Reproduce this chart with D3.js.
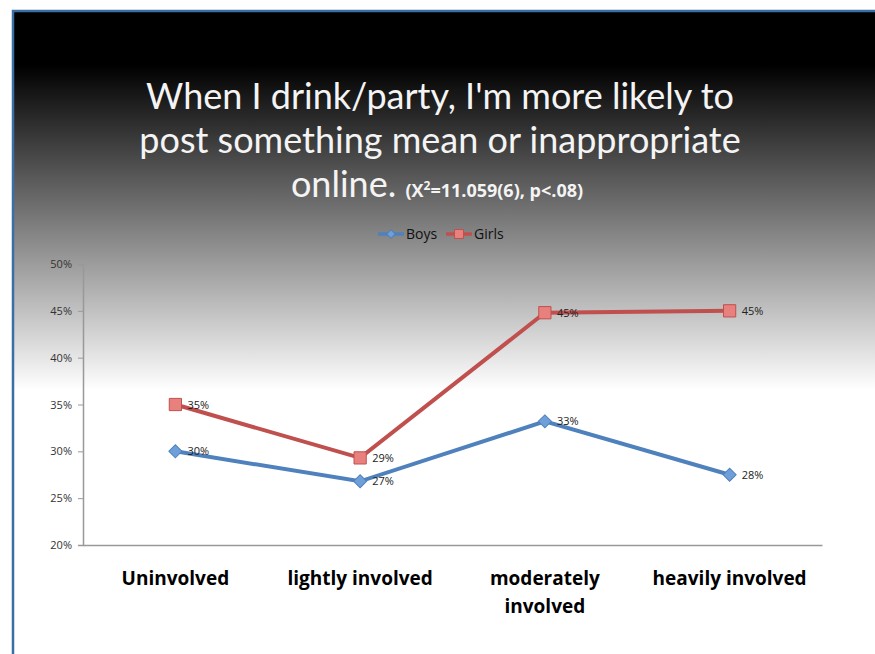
<!DOCTYPE html>
<html>
<head>
<meta charset="utf-8">
<script src="https://cdn.jsdelivr.net/npm/d3@7"></script>
<style>
body { margin: 0; background: #fff; }
text { font-family: Lato, "Open Sans", sans-serif; }
</style>
</head>
<body>
<script>
// chart data
var categories = ["Uninvolved", "lightly involved", "moderately involved", "heavily involved"];
var catLines = [["Uninvolved"], ["lightly involved"], ["moderately", "involved"], ["heavily involved"]];
var seriesNames = ["Boys", "Girls"];
var boys = [0.300, 0.268, 0.332, 0.275];
var girls = [0.350, 0.293, 0.448, 0.450];
var boysLabels = ["30%", "27%", "33%", "28%"];
var girlsLabels = ["35%", "29%", "45%", "45%"];
var yTicks = [0.20, 0.25, 0.30, 0.35, 0.40, 0.45, 0.50];

var w = 875, h = 654;
var blue = "#4f81bd", red = "#c0504d";

var svg = d3.select("body").append("svg")
	.attr("width", w)
	.attr("height", h);

var defs = svg.append("defs");
var grad = defs.append("linearGradient")
	.attr("id", "bg")
	.attr("gradientUnits", "userSpaceOnUse")
	.attr("x1", 0).attr("x2", 0)
	.attr("y1", 10).attr("y2", 654);
grad.append("stop").attr("offset", "0").attr("stop-color", "#000");
grad.append("stop").attr("offset", "0.085").attr("stop-color", "#000");
grad.append("stop").attr("offset", "0.59").attr("stop-color", "#fff");
grad.append("stop").attr("offset", "1").attr("stop-color", "#fff");

// slide panel
svg.append("rect")
	.attr("x", 13).attr("y", 11)
	.attr("width", w).attr("height", h)
	.attr("fill", "url(#bg)")
	.attr("stroke", "#3a6ea5")
	.attr("stroke-width", 2.5);

// title
var title = svg.append("text")
	.attr("text-anchor", "middle")
	.attr("fill", "#f4f4f4")
	.style("font-size", "36px");
title.append("tspan").attr("x", 440).attr("y", 109).text("When I drink/party, I'm more likely to");
title.append("tspan").attr("x", 440).attr("y", 153).text("post something mean or inappropriate");
var l3 = title.append("tspan").attr("x", 437).attr("y", 197).text("online. ");
l3.append("tspan").style("font-size", "18px").style("font-weight", "bold").style("font-family", "'Open Sans', sans-serif").text("(X");
l3.append("tspan").style("font-size", "12px").style("font-weight", "bold").style("font-family", "'Open Sans', sans-serif").attr("dy", -7).text("2");
l3.append("tspan").style("font-size", "18px").style("font-weight", "bold").style("font-family", "'Open Sans', sans-serif").attr("dy", 7).text("=11.059(6), p<.08)");

// scales
var x = d3.scaleBand().domain(categories).range([83, 822]);
var y = d3.scaleLinear().domain([0.20, 0.50]).range([545, 264]);

// y axis
var yAxis = svg.append("g")
	.attr("transform", "translate(83,0)")
	.call(d3.axisLeft(y).tickValues(yTicks).tickFormat(d3.format(".0%")).tickSize(5).tickPadding(6));
yAxis.select(".domain").attr("stroke", "#999").attr("stroke-width", 1.5);
yAxis.selectAll(".tick line").attr("stroke", "#999");
yAxis.selectAll(".tick text").attr("fill", "#333").style("font-size", "11px").style("font-family", "'Open Sans', sans-serif");

// x axis
var xAxis = svg.append("g")
	.attr("transform", "translate(0,545)")
	.call(d3.axisBottom(x).tickSize(0).tickFormat(""));
xAxis.select(".domain").attr("stroke", "#999").attr("stroke-width", 1.5);

categories.forEach(function(c, i) {
	var t = svg.append("text")
		.attr("text-anchor", "middle")
		.attr("fill", "#000")
		.style("font-size", "19px")
		.style("font-family", "'Open Sans', sans-serif")
		.style("font-weight", "bold");
	catLines[i].forEach(function(s, j) {
		t.append("tspan")
			.attr("x", x(c) + x.bandwidth() / 2)
			.attr("y", 585 + j * 28)
			.text(s);
	});
});

var cx = function(d, i) { return x(categories[i]) + x.bandwidth() / 2; };
var line = d3.line().x(cx).y(function(d) { return y(d); });

function series(vals, labels, col, fill, isSquare) {
	svg.append("path")
		.datum(vals)
		.attr("d", line)
		.attr("fill", "none")
		.attr("stroke", col)
		.attr("stroke-width", 4);
	svg.selectAll(null)
		.data(vals)
		.enter().append("path")
		.attr("transform", function(d, i) {
			return "translate(" + cx(d, i) + "," + y(d) + ")" + (isSquare ? "" : " rotate(45)");
		})
		.attr("d", d3.symbol().type(d3.symbolSquare).size(isSquare ? 150 : 85))
		.attr("fill", fill)
		.attr("stroke", col)
		.attr("stroke-width", 1);
	svg.selectAll(null)
		.data(vals)
		.enter().append("text")
		.attr("x", function(d, i) { return cx(d, i) + 12; })
		.attr("y", function(d) { return y(d) + 4; })
		.attr("fill", "#222")
		.style("font-size", "11px")
		.style("font-family", "'Open Sans', sans-serif")
		.text(function(d, i) { return labels[i]; });
}
series(boys, boysLabels, blue, "#6f9fd8", false);
series(girls, girlsLabels, red, "#e8817e", true);

// legend
var leg = [{ name: seriesNames[0], col: blue, fill: "#6f9fd8", sq: false, x: 378 },
	{ name: seriesNames[1], col: red, fill: "#e8817e", sq: true, x: 446 }];
leg.forEach(function(l) {
	svg.append("line")
		.attr("x1", l.x).attr("x2", l.x + 26)
		.attr("y1", 234).attr("y2", 234)
		.attr("stroke", l.col).attr("stroke-width", 3.5);
	svg.append("path")
		.attr("transform", "translate(" + (l.x + 13) + ",234)" + (l.sq ? "" : " rotate(45)"))
		.attr("d", d3.symbol().type(d3.symbolSquare).size(l.sq ? 80 : 36))
		.attr("fill", l.fill)
		.attr("stroke", l.col);
	svg.append("text")
		.attr("x", l.x + 28).attr("y", 239)
		.attr("fill", "#111")
		.style("font-size", "14px")
		.style("font-family", "'Open Sans', sans-serif")
		.text(l.name);
});
</script>
</body>
</html>
